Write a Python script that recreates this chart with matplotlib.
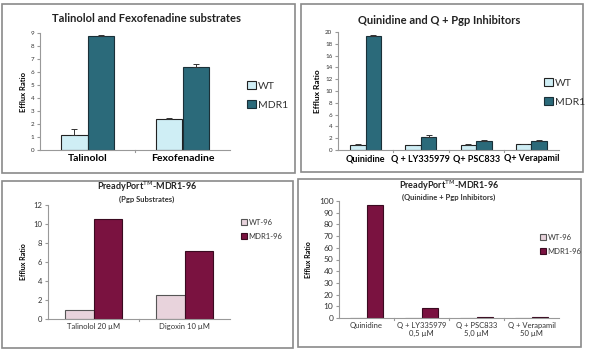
import matplotlib
matplotlib.use("Agg")
import matplotlib.pyplot as plt
import numpy as np
from matplotlib.patches import Rectangle

plt.rcParams['font.family'] = ['Lato', 'DejaVu Sans']

# ---- data ----
tl_cats = ["Talinolol", "Fexofenadine"]
tl_wt = [1.15, 2.35]
tl_wt_err = [0.5, 0.08]
tl_mdr = [8.75, 6.4]
tl_mdr_err = [0.08, 0.2]

tr_cats = ["Quinidine", "Q + LY335979", "Q+ PSC833", "Q+ Verapamil"]
tr_wt = [0.9, 0.8, 0.9, 1.0]
tr_wt_err = [0.05, 0.05, 0.1, 0.05]
tr_mdr = [19.4, 2.2, 1.6, 1.5]
tr_mdr_err = [0.05, 0.4, 0.1, 0.15]

bl_cats = ["Talinolol 20 \u00b5M", "Digoxin 10 \u00b5M"]
bl_wt = [1.0, 2.5]
bl_mdr = [10.5, 7.2]

br_cats = ["Quinidine", "Q + LY335979\n0,5 \u00b5M", "Q + PSC833\n5,0 \u00b5M", "Q + Verapamil\n50 \u00b5M"]
br_wt = [0.3, 0.3, 0.3, 0.3]
br_mdr = [96.5, 8.8, 0.5, 0.9]

W, H = 596, 355
fig = plt.figure(figsize=(W/100, H/100), dpi=100)
fig.patch.set_facecolor("white")

def fr(x0, y0, x1, y1):
    # pixel box (top-left origin) -> figure fraction [l,b,w,h]
    return [x0/W, 1 - y1/H, (x1-x0)/W, (y1-y0)/H]

# panel borders
for (x0, y0, x1, y1) in [(2, 4, 295, 173), (301, 4, 583, 172), (2, 181, 293, 348), (298, 179, 581, 347)]:
    l, b, w, h = fr(x0, y0, x1, y1)
    fig.add_artist(Rectangle((l, b), w, h, transform=fig.transFigure, fill=False,
                             edgecolor="#8a8a8a", linewidth=1.2))

def style_ax(ax, ymax, step, fs):
    ax.set_ylim(0, ymax)
    ax.set_yticks(np.arange(0, ymax + 0.001, step))
    for s in ["top", "right"]:
        ax.spines[s].set_visible(False)
    ax.spines["left"].set_color("#999999")
    ax.spines["bottom"].set_color("#999999")
    ax.tick_params(axis="y", labelsize=fs, length=2, color="#999999", pad=2, labelcolor="#333333")
    ax.tick_params(axis="x", length=0, pad=3)

def draw(ax, cats, wt, mdr, wt_err, mdr_err, c_wt, c_mdr, e_wt, e_mdr, bw, labs, leg_pos, leg_fs):
    n = len(cats)
    x = np.arange(n)
    kw_wt = dict(yerr=[np.zeros(n), wt_err], capsize=2, error_kw=dict(elinewidth=0.7, capthick=0.7, ecolor="#333333")) if wt_err is not None else {}
    kw_mdr = dict(yerr=[np.zeros(n), mdr_err], capsize=2, error_kw=dict(elinewidth=0.7, capthick=0.7, ecolor="#333333")) if mdr_err is not None else {}
    b1 = ax.bar(x - bw/2, wt, bw, color=c_wt, edgecolor=e_wt, linewidth=0.8, label=labs[0], **kw_wt)
    b2 = ax.bar(x + bw/2, mdr, bw, color=c_mdr, edgecolor=e_mdr, linewidth=0.8, label=labs[1], **kw_mdr)
    ax.set_xlim(-0.5, n - 0.5)
    ax.set_xticks(x)
    # category separators ticks
    for k in range(1, n):
        ax.plot([k - 0.5, k - 0.5], [0, -0.02], transform=ax.get_xaxis_transform(), color="#999999", lw=0.8, clip_on=False)
    leg = fig.legend(handles=[b1, b2], labels=labs, loc="upper left", bbox_to_anchor=leg_pos,
                     frameon=False, fontsize=leg_fs, handlelength=0.8, handleheight=0.8,
                     handletextpad=0.2, labelspacing=0.9, borderaxespad=0)
    for t in leg.get_texts():
        t.set_color("#333333")
    return ax

# ---- top-left ----
ax1 = fig.add_axes(fr(40, 33, 230, 150))
draw(ax1, tl_cats, tl_wt, tl_mdr, tl_wt_err, tl_mdr_err, "#cfeef5", "#2b6a7a", "#222222", "#1a3038",
     0.28, ["WT", "MDR1"], (243/W, 1 - 77/H), 7.5)
style_ax(ax1, 9, 1, 4.5)
ax1.set_xticklabels(tl_cats, fontsize=7.5, fontweight="bold")
ax1.set_ylabel("Efflux Ratio", fontsize=5.5, fontweight="bold", labelpad=3)
fig.text(146/W, 1 - 18/H, "Talinolol and Fexofenadine substrates", ha="center", va="center",
         fontsize=8, fontweight="bold", color="#222222")

# ---- top-right ----
ax2 = fig.add_axes(fr(338, 32, 559, 150))
draw(ax2, tr_cats, tr_wt, tr_mdr, tr_wt_err, tr_mdr_err, "#cfeef5", "#2b6a7a", "#222222", "#1a3038",
     0.28, ["WT", "MDR1"], (540/W, 1 - 74/H), 7.5)
style_ax(ax2, 20, 2, 4.5)
ax2.set_xticklabels(tr_cats, fontsize=6.5, fontweight="bold")
ax2.set_ylabel("Efflux Ratio", fontsize=6, fontweight="bold", labelpad=3)
fig.text(439/W, 1 - 20/H, "Quinidine and Q + Pgp Inhibitors", ha="center", va="center",
         fontsize=8, fontweight="bold", color="#222222")

# ---- bottom-left ----
ax3 = fig.add_axes(fr(48, 205, 230, 319))
draw(ax3, bl_cats, bl_wt, bl_mdr, None, None, "#e8d3dc", "#7a1240", "#555555", "#3a0a20",
     0.31, ["WT-96", "MDR1-96"], (238/W, 1 - 216/H), 5.5)
style_ax(ax3, 12, 2, 5.5)
ax3.set_xticklabels(bl_cats, fontsize=5.5, color="#333333")
ax3.set_ylabel("Efflux Ratio", fontsize=5, fontweight="bold", labelpad=5)
fig.text(147/W, 1 - 187/H, "PreadyPort$^{\\mathrm{TM}}$-MDR1-96", ha="center", va="center",
         fontsize=6.5, fontweight="bold", color="#222222")
fig.text(147/W, 1 - 199/H, "(Pgp Substrates)", ha="center", va="center",
         fontsize=5.5, fontweight="bold", color="#333333")

# ---- bottom-right ----
ax4 = fig.add_axes(fr(339, 201, 559, 318))
draw(ax4, br_cats, br_wt, br_mdr, None, None, "#e8d3dc", "#7a1240", "#555555", "#3a0a20",
     0.3, ["WT-96", "MDR1-96"], (537/W, 1 - 231/H), 5.5)
style_ax(ax4, 100, 10, 6)
ax4.set_xticklabels(br_cats, fontsize=5.5, color="#333333")
ax4.set_ylabel("Efflux Ratio", fontsize=5, fontweight="bold", labelpad=5)
fig.text(449/W, 1 - 186/H, "PreadyPort$^{\\mathrm{TM}}$-MDR1-96", ha="center", va="center",
         fontsize=6.5, fontweight="bold", color="#222222")
fig.text(449/W, 1 - 197/H, "(Quinidine + Pgp Inhibitors)", ha="center", va="center",
         fontsize=5.5, fontweight="bold", color="#333333")

fig.savefig("out.png", dpi=100, facecolor="white")
